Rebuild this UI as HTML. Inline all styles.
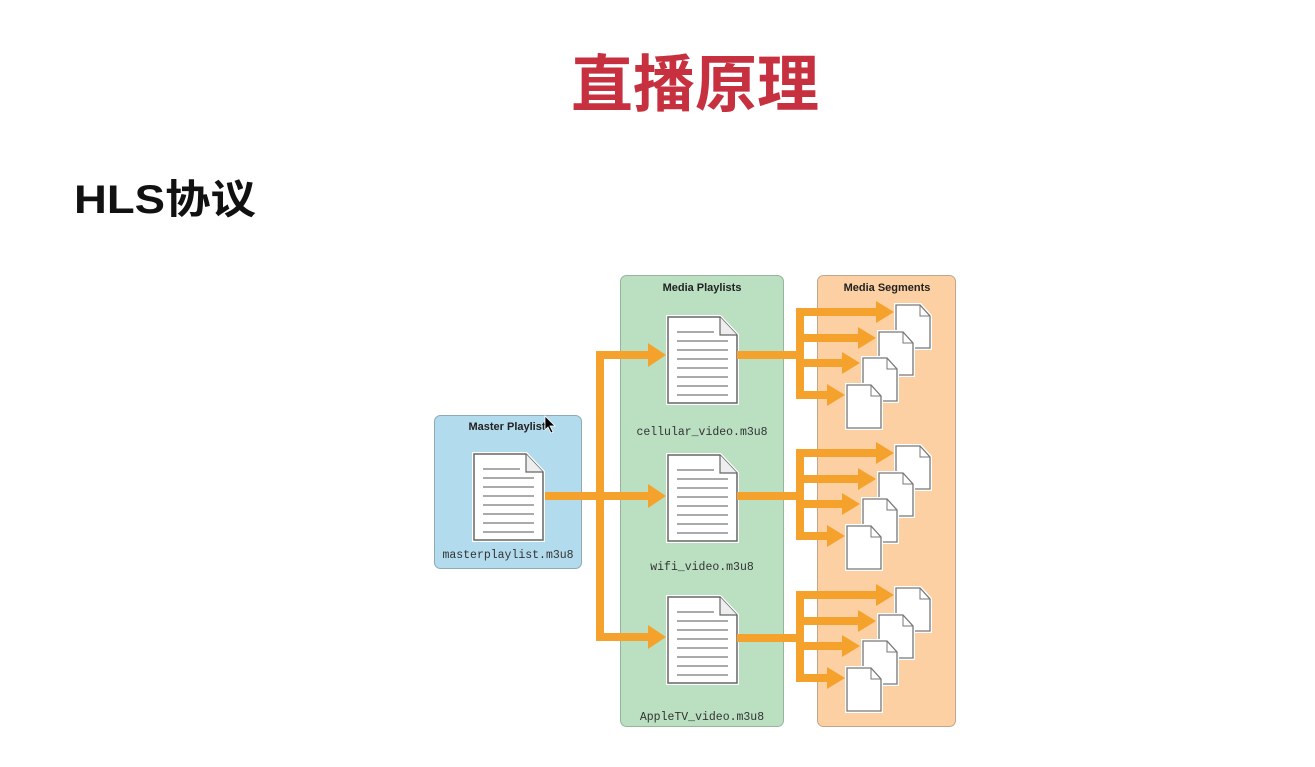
<!DOCTYPE html>
<html><head><meta charset="utf-8"><style>
html,body{margin:0;padding:0;background:#fff;}
body{width:1315px;height:767px;overflow:hidden;position:relative;}
</style></head><body>
<svg width="1315" height="767" viewBox="0 0 1315 767" xmlns="http://www.w3.org/2000/svg" style="position:absolute;left:0;top:0">
<defs>
<g id="bigdoc">
<path d="M0,0 H52 L69,18 V86 H0 Z" fill="#fff" stroke="#fff" stroke-width="4"/>
<path d="M0,0 H52 L69,18 V86 H0 Z" fill="#fff" stroke="#666" stroke-width="1.5"/>
<path d="M52,0 V18 H69" fill="#eee" stroke="#666" stroke-width="1.2"/>
<g stroke="#aaa" stroke-width="2">
<line x1="9" y1="15" x2="46" y2="15"/><line x1="9" y1="24" x2="60" y2="24"/><line x1="9" y1="33" x2="60" y2="33"/><line x1="9" y1="42" x2="60" y2="42"/><line x1="9" y1="51" x2="60" y2="51"/><line x1="9" y1="60" x2="60" y2="60"/><line x1="9" y1="69" x2="60" y2="69"/><line x1="9" y1="78" x2="60" y2="78"/>
</g></g>
<g id="smalldoc">
<path d="M0,0 H24 L34,11 V43 H0 Z" fill="#fff" stroke="#fff" stroke-width="4"/>
<path d="M0,0 H24 L34,11 V43 H0 Z" fill="#fff" stroke="#777" stroke-width="1.3"/>
<path d="M24,0 V11 H34" fill="none" stroke="#777" stroke-width="1"/>
</g>
<g id="segs">
<g fill="none" stroke="#f5a22c" stroke-width="8">
<line x1="737" y1="0" x2="804" y2="0"/>
<line x1="800" y1="-43" x2="800" y2="44"/>
<line x1="796" y1="-43" x2="880" y2="-43"/>
<line x1="796" y1="-17" x2="862" y2="-17"/>
<line x1="796" y1="8" x2="846" y2="8"/>
<line x1="796" y1="40" x2="830" y2="40"/>
</g>
<g fill="#f5a22c">
<polygon points="876,-54 894,-43 876,-32"/>
<polygon points="858,-28 876,-17 858,-6"/>
<polygon points="842,-3 860,8 842,19"/>
<polygon points="827,29 845,40 827,51"/>
</g>
<use href="#smalldoc" x="896" y="-50"/>
<use href="#smalldoc" x="879" y="-23"/>
<use href="#smalldoc" x="863" y="3"/>
<use href="#smalldoc" x="847" y="30"/>
</g>
</defs>
<text x="695" y="106" text-anchor="middle" font-family="Liberation Sans, Noto Sans CJK SC, sans-serif" font-weight="bold" font-size="62" fill="#c6303f">直播原理</text>
<text x="74" y="213" textLength="182" lengthAdjust="spacingAndGlyphs" font-family="Liberation Sans, Noto Sans CJK SC, sans-serif" font-weight="bold" font-size="40" fill="#111">HLS协议</text>

<rect x="434.5" y="415.5" width="147" height="153" rx="6" fill="#b3dbee" stroke="#8fa9b5"/>
<rect x="620.5" y="275.5" width="163" height="451" rx="6" fill="#badfc1" stroke="#98b39e"/>
<rect x="817.5" y="275.5" width="138" height="451" rx="6" fill="#fdd0a3" stroke="#c0a68d"/>
<g font-family="Liberation Sans, sans-serif" font-weight="bold" font-size="11" fill="#222" text-anchor="middle">
<text x="507" y="430">Master Playlist</text>
<text x="702" y="291">Media Playlists</text>
<text x="887" y="291">Media Segments</text>
</g>
<g font-family="Liberation Mono, monospace" font-size="11.5" fill="#333" text-anchor="middle">
<text x="508" y="558">masterplaylist.m3u8</text>
<text x="702" y="435">cellular_video.m3u8</text>
<text x="702" y="570">wifi_video.m3u8</text>
<text x="702" y="720">AppleTV_video.m3u8</text>
</g>
<g fill="none" stroke="#f5a22c" stroke-width="8">
<line x1="542" y1="496" x2="604" y2="496"/>
<line x1="600" y1="351" x2="600" y2="641"/>
<line x1="596" y1="355" x2="650" y2="355"/>
<line x1="596" y1="496" x2="650" y2="496"/>
<line x1="596" y1="637" x2="650" y2="637"/>
</g>
<g fill="#f5a22c">
<polygon points="648,343 666,355 648,367"/>
<polygon points="648,484 666,496 648,508"/>
<polygon points="648,625 666,637 648,649"/>
</g>
<use href="#bigdoc" x="474" y="454"/>
<use href="#bigdoc" x="668" y="317"/>
<use href="#bigdoc" x="668" y="455"/>
<use href="#bigdoc" x="668" y="597"/>
<use href="#segs" x="0" y="355"/>
<use href="#segs" x="0" y="496"/>
<use href="#segs" x="0" y="638"/>
<path d="M545,416 L545,430 L548,427 L551,433 L553,432 L550,426 L555,426 Z" fill="#000" stroke="#fff" stroke-width="0.8"/>
</svg>
</body></html>
